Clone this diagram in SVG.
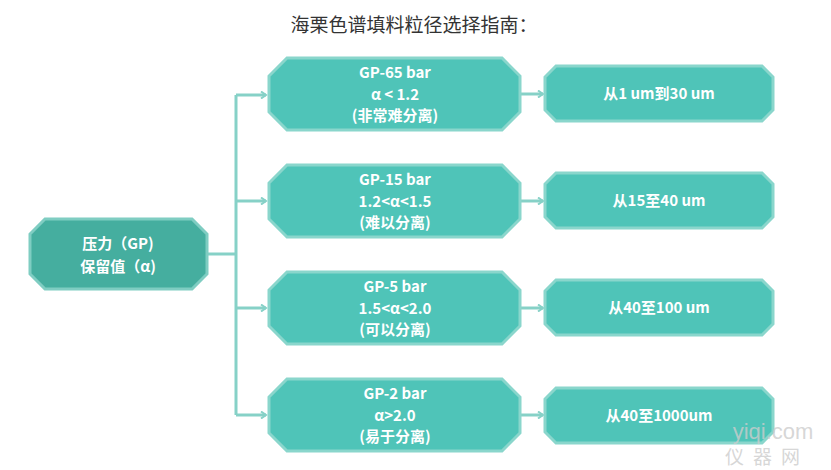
<svg xmlns="http://www.w3.org/2000/svg" width="831" height="470" viewBox="0 0 831 470">
<style>
.t{font-family:"Microsoft YaHei","Noto Sans CJK SC",sans-serif;font-weight:bold;fill:#fff;font-size:15px;text-anchor:middle}
.m{fill:#4fc4b8;stroke:#8ad6cc;stroke-width:3}
.c{fill:none;stroke:#86d1c7;stroke-width:3}
</style>
<defs><marker id="a" markerWidth="8" markerHeight="8" refX="6" refY="4" orient="auto" markerUnits="userSpaceOnUse"><path d="M1,0.5 L6,4 L1,7.5" fill="none" stroke="#86d1c7" stroke-width="2"/></marker></defs>
<rect width="831" height="470" fill="#fff"/>
<text x="414" y="32" font-family="'Microsoft YaHei','Noto Sans CJK SC',sans-serif" font-size="19" fill="#333" text-anchor="middle">海栗色谱填料粒径选择指南：</text>
<g id="connectors" class="c">
<path d="M207,254 H236 M236,95 V415"/>
<path d="M236,95 H266" marker-end="url(#a)"/>
<path d="M236,201 H266" marker-end="url(#a)"/>
<path d="M236,308 H266" marker-end="url(#a)"/>
<path d="M236,415 H266" marker-end="url(#a)"/>
<path d="M520,94 H543" marker-end="url(#a)"/>
<path d="M520,201 H543" marker-end="url(#a)"/>
<path d="M520,308 H543" marker-end="url(#a)"/>
<path d="M520,415 H543" marker-end="url(#a)"/>
</g>
<g id="root"><path d="M45,219 H192 L207,234 V274 L192,289 H45 L30,274 V234 Z" fill="#45ae9f" stroke="#7fcdc2" stroke-width="3"/>
<text class="t" x="118" y="249">压力（GP)</text><text class="t" x="118" y="272">保留值（α)</text></g>
<g id="m1"><path class="m" d="M287,58 H502 L520,76 V112 L502,130 H287 L269,112 V76 Z"/>
<text class="t" x="395" y="78">GP-65 bar</text><text class="t" x="395" y="100">α &lt; 1.2</text><text class="t" x="395" y="121">(非常难分离)</text></g>
<g id="m2"><path class="m" d="M287,165 H502 L520,183 V219 L502,237 H287 L269,219 V183 Z"/>
<text class="t" x="395" y="185">GP-15 bar</text><text class="t" x="395" y="207">1.2&lt;α&lt;1.5</text><text class="t" x="395" y="228">(难以分离)</text></g>
<g id="m3"><path class="m" d="M287,272 H502 L520,290 V326 L502,344 H287 L269,326 V290 Z"/>
<text class="t" x="395" y="292">GP-5 bar</text><text class="t" x="395" y="314">1.5&lt;α&lt;2.0</text><text class="t" x="395" y="335">(可以分离)</text></g>
<g id="m4"><path class="m" d="M287,379 H502 L520,397 V433 L502,451 H287 L269,433 V397 Z"/>
<text class="t" x="395" y="399">GP-2 bar</text><text class="t" x="395" y="421">α&gt;2.0</text><text class="t" x="395" y="442">(易于分离)</text></g>
<g id="r1"><path class="m" d="M556,66 H762 L773,77 V110 L762,121 H556 L545,110 V77 Z"/><text class="t" x="659" y="99">从1 um到30 um</text></g>
<g id="r2"><path class="m" d="M556,173 H762 L773,184 V217 L762,228 H556 L545,217 V184 Z"/><text class="t" x="659" y="206">从15至40 um</text></g>
<g id="r3"><path class="m" d="M556,280 H762 L773,291 V324 L762,335 H556 L545,324 V291 Z"/><text class="t" x="659" y="313">从40至100 um</text></g>
<g id="r4"><path class="m" d="M556,388 H762 L773,399 V432 L762,443 H556 L545,432 V399 Z"/><text class="t" x="659" y="421">从40至1000um</text></g>
<text x="773" y="439" font-family="'Liberation Sans',sans-serif" font-size="22" fill="#ccc" fill-opacity="0.8" text-anchor="middle">yiqi.com</text>
<text x="725" y="464" font-family="'Noto Sans CJK SC',sans-serif" font-size="19" fill="#ccc" fill-opacity="0.8" letter-spacing="9">仪器网</text>
</svg>
